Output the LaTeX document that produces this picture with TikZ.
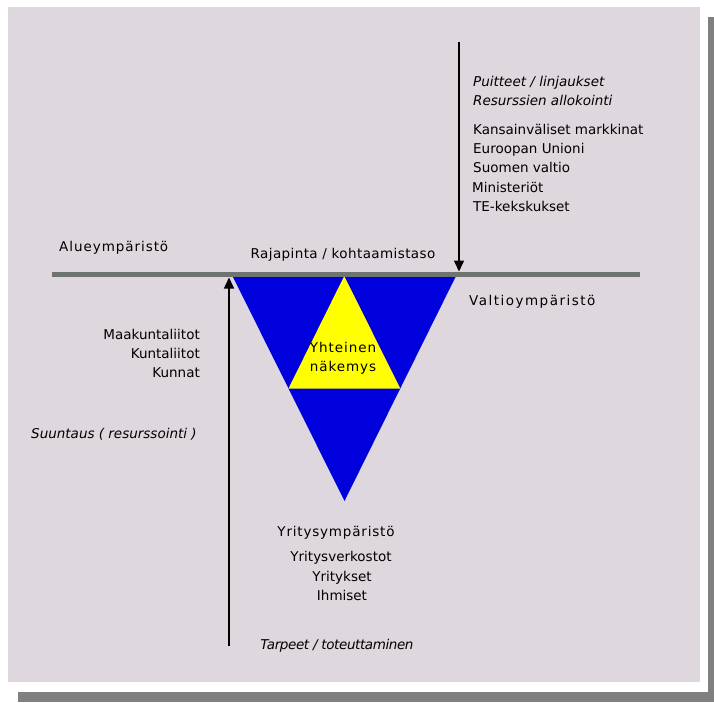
\documentclass[tikz,border=0pt]{standalone}
\usepackage{fontspec}
\setmainfont{DejaVu Sans}
\usetikzlibrary{arrows.meta,calc}
\definecolor{panel}{RGB}{222,215,221}
\definecolor{shadowgrey}{RGB}{128,128,128}
\definecolor{bargrey}{RGB}{110,116,112}
\definecolor{tblue}{RGB}{0,0,221}
\definecolor{tyellow}{RGB}{255,255,0}
\begin{document}
\begin{tikzpicture}[x=1pt,y=-1pt,
  lbl/.style={inner sep=0pt, font=\fontsize{13.5}{16}\selectfont},
  ilbl/.style={inner sep=0pt, font=\fontsize{13.5}{16}\selectfont\itshape},
  spaced/.style={inner sep=0pt, font=\fontsize{13.5}{16}\selectfont\addfontfeatures{LetterSpace=#1}},
  arr/.style={line width=1.5pt, -{Triangle[length=11pt,width=10pt]}}]
\useasboundingbox (0,0) rectangle (714,702);
\fill[white] (0,0) rectangle (714,702);
\fill[shadowgrey] (18,692) rectangle (714,702);
\fill[shadowgrey] (708,17) rectangle (714,702);
\fill[panel] (8,7) rectangle (700,682);
% triangles
\coordinate (TL) at (232.5,276);
\coordinate (TR) at (456,276);
\coordinate (TB) at (344.5,501);
\fill[tblue] (TL) -- (TR) -- (TB) -- cycle;
\fill[tyellow] ($(TL)!0.5!(TR)$) -- ($(TR)!0.5!(TB)$) -- ($(TB)!0.5!(TL)$) -- cycle;
% bar
\coordinate (barL) at (52,274.4);
\coordinate (barR) at (640,274.4);
\draw[bargrey, line width=5.8pt] (barL) -- (barR);
% arrows
\coordinate (downStart) at (459,42);
\coordinate (downEnd) at (459,271.5);
\coordinate (upStart) at (229,646);
\coordinate (upEnd) at (229,277.5);
\draw[arr] (downStart) -- (downEnd);
\draw[arr] (upStart) -- (upEnd);
% texts top right
\node[ilbl, anchor=base west] (puitteet) at (473,86.5) {Puitteet / linjaukset};
\node[ilbl, anchor=base west] (resurssien) at (473,105.5) {Resurssien allokointi};
\node[lbl, anchor=base west] (kansain) at (473,134.5) {Kansainväliset markkinat};
\node[lbl, anchor=base west] (euroopan) at (473,153.5) {Euroopan Unioni};
\node[lbl, anchor=base west] (suomen) at (473,172.5) {Suomen valtio};
\node[lbl, anchor=base west] (minist) at (472,192) {Ministeriöt};
\node[lbl, anchor=base west] (tekesk) at (473,211) {TE-kekskukset};
% bar labels
\node[spaced=7, anchor=base west] (alue) at (59,251.5) {Alueympäristö};
\node[spaced=3, anchor=base] (rajapinta) at (343,258.5) {Rajapinta / kohtaamistaso};
\node[spaced=11, anchor=base west] (valtio) at (469,305) {Valtioympäristö};
% left texts
\node[lbl, anchor=base east] (maakunta) at (200,339.5) {Maakuntaliitot};
\node[lbl, anchor=base east] (kuntaliitot) at (200,358.5) {Kuntaliitot};
\node[lbl, anchor=base east] (kunnat) at (200,377.5) {Kunnat};
\node[ilbl, anchor=base west] (suuntaus) at (31,438.5) {Suuntaus ( resurssointi )};
% centre
\node[spaced=7, anchor=base] (yhteinen) at (343,352.5) {Yhteinen};
\node[spaced=7, anchor=base] (nakemys) at (343,371.5) {näkemys};
% bottom
\node[spaced=6, anchor=base] (yritysymp) at (336,536) {Yritysympäristö};
\node[lbl, anchor=base] (yritysverk) at (341,561.5) {Yritysverkostot};
\node[lbl, anchor=base] (yritykset) at (342,581) {Yritykset};
\node[lbl, anchor=base] (ihmiset) at (342,600) {Ihmiset};
\node[ilbl, anchor=base, font=\fontsize{13.5}{16}\selectfont\itshape\addfontfeatures{LetterSpace=-3}] (tarpeet) at (337,649.5) {Tarpeet / toteuttaminen};
\end{tikzpicture}
\end{document}
